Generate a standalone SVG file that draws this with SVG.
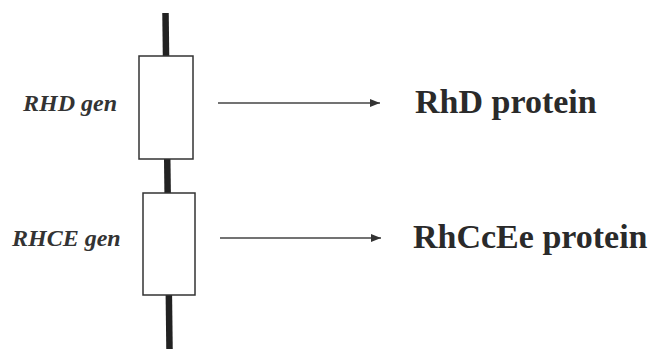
<svg xmlns="http://www.w3.org/2000/svg" width="656" height="349" viewBox="0 0 656 349">
<style>
.gene{fill:#fff;stroke:#333;stroke-width:1.5}
.chrom{stroke:#222;stroke-width:6.5;fill:none}
.conn{stroke:#444;stroke-width:1.3;fill:none}
.glabel{font-style:italic;font-weight:bold;font-size:24px;fill:#333}
.plabel{font-weight:bold;font-size:34px;fill:#2a2a2a}
</style>
<defs>
<marker id="ah" viewBox="0 0 10 8" refX="10" refY="4" markerWidth="10" markerHeight="8" markerUnits="userSpaceOnUse" orient="auto">
<path d="M0,0 L10,4 L0,8 Z" fill="#333"/>
</marker>
</defs>
<rect width="656" height="349" fill="#fff"/>
<g id="chromosome">
<line class="chrom" x1="165.5" y1="13" x2="169.5" y2="349"/>
</g>
<g id="rhd-gene">
<rect class="gene" x="139" y="56" width="54" height="103"/>
<text class="glabel" font-family="'Liberation Serif', 'Times New Roman', 'DejaVu Serif', serif" x="23" y="111">RHD gen</text>
</g>
<g id="rhce-gene">
<rect class="gene" x="143" y="193" width="52" height="102"/>
<text class="glabel" font-family="'Liberation Serif', 'Times New Roman', 'DejaVu Serif', serif" x="12" y="246">RHCE gen</text>
</g>
<g id="rhd-protein">
<text class="plabel" font-family="'Liberation Serif', 'Times New Roman', 'DejaVu Serif', serif" x="415" y="113">RhD protein</text>
</g>
<g id="rhcce-protein">
<text class="plabel" font-family="'Liberation Serif', 'Times New Roman', 'DejaVu Serif', serif" x="413" y="248">RhCcEe protein</text>
</g>
<g id="connectors">
<line class="conn" x1="218" y1="103" x2="380" y2="103" marker-end="url(#ah)"/>
<line class="conn" x1="220" y1="238" x2="381" y2="238" marker-end="url(#ah)"/>
</g>
</svg>
